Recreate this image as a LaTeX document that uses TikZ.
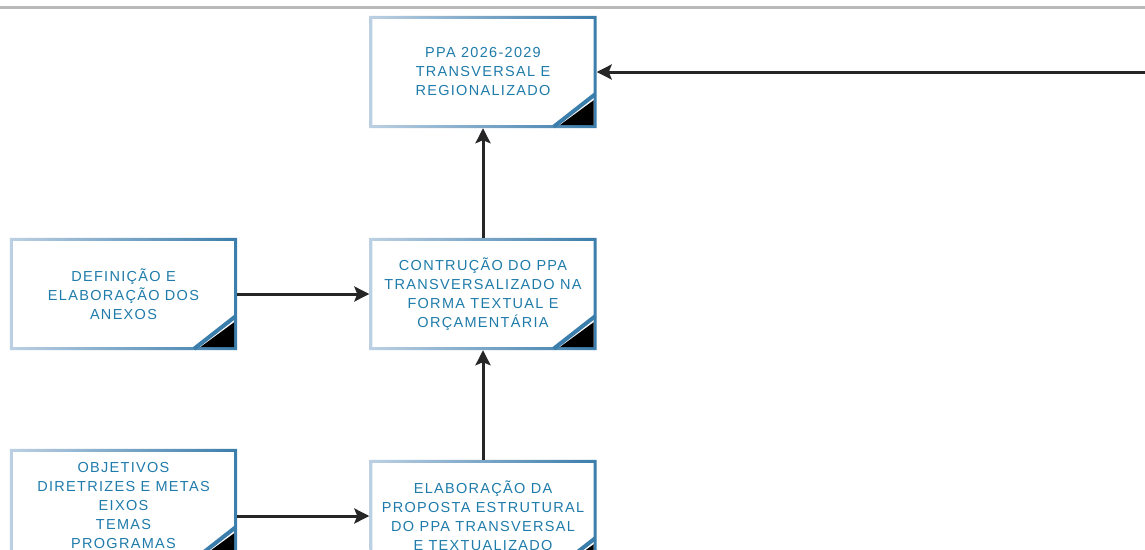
\documentclass[tikz,border=0pt]{standalone}
\usepackage{fontspec}
\setmainfont{Liberation Sans}
\usetikzlibrary{arrows.meta}
\definecolor{textoazul}{HTML}{1F7BAA}
\definecolor{bordaclara}{HTML}{BCD0E3}
\definecolor{bordaescura}{HTML}{3B7DAB}
\definecolor{seta}{HTML}{262626}
\begin{document}
\begin{tikzpicture}[x=1pt,y=-1pt]

    \tikzset{
      etapa/.style={
        text=textoazul,
        align=center,
        inner sep=0pt,
        minimum width=227pt,
        minimum height=112pt,
        font=\fontsize{14.5}{19}\selectfont\addfontfeatures{LetterSpace=9},
      },
      ligacao/.style={
        draw=seta,
        line width=3pt,
        -{Stealth[length=15pt,width=15pt,inset=3pt]},
      },
    }
    \useasboundingbox (0,0) rectangle (1145,549);
    \draw[color={gray!55},line width=3pt] (0,7)--(1145,7);

    \node[etapa] (ppa) at (483,72) {PPA 2026-2029\\TRANSVERSAL E\\REGIONALIZADO};
    \node[etapa] (defin) at (123.5,294) {DEFINIÇÃO E\\ELABORAÇÃO DOS\\ANEXOS};
    \node[etapa] (constr) at (483,294) {CONTRUÇÃO DO PPA\\TRANSVERSALIZADO NA\\FORMA TEXTUAL E\\ORÇAMENTÁRIA};
    \node[etapa] (objet) at (123.5,505) {OBJETIVOS\\DIRETRIZES E METAS\\EIXOS\\TEMAS\\PROGRAMAS};
    \node[etapa] (elab) at (483,516) {ELABORAÇÃO DA\\PROPOSTA ESTRUTURAL\\DO PPA TRANSVERSAL\\E TEXTUALIZADO};
    \coordinate (entrada) at (1145,72);

    % bordas e cantos
    \foreach \n in {ppa,defin,constr,objet,elab}{
      \shade[left color=bordaclara,right color=bordaescura,even odd rule]
        (\n.south west) rectangle (\n.north east)
        ([xshift=3pt,yshift=3pt]\n.south west) rectangle ([xshift=-3pt,yshift=-3pt]\n.north east);
      \fill[black] ([xshift=-3pt,yshift=3pt]\n.south east) -- ([xshift=-37pt,yshift=3pt]\n.south east) -- ([xshift=-3pt,yshift=28pt]\n.south east) -- cycle;
      \draw[color=bordaescura,line width=4pt] ([xshift=-43pt,yshift=1.5pt]\n.south east) -- ([xshift=-1.5pt,yshift=34pt]\n.south east);
    }

    \draw[ligacao] (entrada) -- (ppa);
    \draw[ligacao] (constr) -- (ppa);
    \draw[ligacao] (elab) -- (constr);
    \draw[ligacao] (defin) -- (constr);
    \draw[ligacao] (objet.east |- elab) -- (elab);

\end{tikzpicture}
\end{document}
